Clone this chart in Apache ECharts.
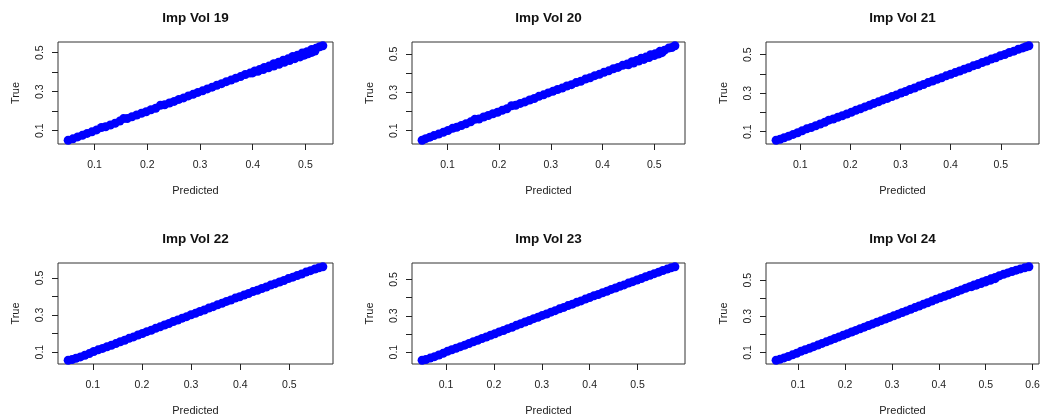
<!DOCTYPE html>
<html>
<head>
<meta charset="utf-8">
<title>Imp Vol</title>
<script src="https://cdn.jsdelivr.net/npm/echarts@6/dist/echarts.min.js"></script>
<style>
  html, body { margin: 0; padding: 0; background: #fff; }
  #chart { width: 1043px; height: 419px; }
</style>
</head>
<body>
<div id="chart"></div>
<script>
// [predicted, true]
const vol19 = [
  [0.050,0.051],[0.059,0.058],[0.068,0.068],[0.077,0.076],[0.086,0.086],[0.095,0.094],[0.104,0.104],[0.113,0.116],
  [0.121,0.120],[0.130,0.129],[0.139,0.138],[0.148,0.149],[0.155,0.162],[0.162,0.162],[0.171,0.171],[0.180,0.180],
  [0.189,0.189],[0.198,0.197],[0.207,0.207],[0.216,0.215],[0.225,0.230],[0.233,0.233],[0.242,0.242],[0.251,0.250],
  [0.260,0.260],[0.269,0.268],[0.278,0.278],[0.287,0.286],[0.296,0.296],[0.305,0.304],[0.314,0.314],[0.323,0.323],
  [0.332,0.333],[0.341,0.341],[0.350,0.351],[0.359,0.359],[0.368,0.369],[0.377,0.377],[0.386,0.388],[0.395,0.395],
  [0.404,0.406],[0.413,0.413],[0.422,0.424],[0.431,0.431],[0.440,0.443],[0.449,0.450],[0.458,0.461],[0.467,0.468],
  [0.476,0.480],[0.485,0.487],[0.494,0.498],[0.503,0.505],[0.512,0.516],[0.520,0.522],[0.527,0.530],[0.533,0.535],
  [0.400,0.396],[0.410,0.404],[0.420,0.413],[0.430,0.422],[0.440,0.431],[0.450,0.440],[0.460,0.450],[0.470,0.459],
  [0.480,0.469],[0.490,0.478],[0.498,0.487],[0.505,0.494],[0.512,0.501],[0.518,0.508]
]
const vol20 = [
  [0.051,0.050],[0.058,0.058],[0.066,0.066],[0.074,0.074],[0.083,0.082],[0.092,0.091],[0.101,0.101],[0.110,0.112],
  [0.118,0.118],[0.127,0.127],[0.136,0.136],[0.145,0.146],[0.153,0.159],[0.161,0.161],[0.170,0.171],[0.179,0.179],
  [0.188,0.188],[0.197,0.196],[0.206,0.206],[0.215,0.214],[0.224,0.230],[0.232,0.232],[0.241,0.242],[0.250,0.250],
  [0.259,0.260],[0.268,0.268],[0.277,0.279],[0.286,0.287],[0.295,0.297],[0.304,0.305],[0.313,0.315],[0.322,0.322],
  [0.331,0.333],[0.340,0.340],[0.349,0.351],[0.358,0.358],[0.367,0.369],[0.376,0.376],[0.385,0.387],[0.394,0.394],
  [0.403,0.405],[0.412,0.412],[0.421,0.423],[0.430,0.430],[0.439,0.441],[0.448,0.448],[0.457,0.460],[0.466,0.466],
  [0.475,0.478],[0.484,0.484],[0.493,0.496],[0.502,0.502],[0.511,0.514],[0.520,0.520],[0.528,0.531],[0.534,0.534],
  [0.540,0.543],[0.450,0.444],[0.460,0.453],[0.470,0.463],[0.480,0.472],[0.490,0.482],[0.500,0.492],[0.508,0.500],
  [0.515,0.507]
]
const vol21 = [
  [0.052,0.056],[0.060,0.061],[0.068,0.069],[0.077,0.077],[0.086,0.086],[0.095,0.095],[0.104,0.105],[0.113,0.115],
  [0.122,0.122],[0.131,0.131],[0.140,0.140],[0.149,0.149],[0.157,0.160],[0.166,0.166],[0.175,0.175],[0.184,0.183],
  [0.193,0.192],[0.202,0.201],[0.211,0.211],[0.220,0.219],[0.229,0.229],[0.238,0.237],[0.247,0.247],[0.256,0.255],
  [0.265,0.265],[0.274,0.273],[0.283,0.283],[0.292,0.291],[0.301,0.301],[0.310,0.309],[0.319,0.319],[0.328,0.327],
  [0.337,0.337],[0.346,0.345],[0.355,0.355],[0.364,0.363],[0.373,0.372],[0.382,0.380],[0.391,0.390],[0.400,0.398],
  [0.409,0.407],[0.418,0.415],[0.427,0.424],[0.436,0.432],[0.445,0.442],[0.454,0.449],[0.463,0.459],[0.472,0.467],
  [0.481,0.477],[0.490,0.484],[0.499,0.494],[0.508,0.501],[0.517,0.511],[0.526,0.518],[0.535,0.528],[0.544,0.535],
  [0.550,0.541],[0.556,0.546]
]
const vol22 = [
  [0.050,0.056],[0.058,0.060],[0.066,0.067],[0.075,0.074],[0.084,0.083],[0.093,0.092],[0.102,0.103],[0.111,0.112],
  [0.120,0.120],[0.129,0.129],[0.138,0.137],[0.147,0.146],[0.156,0.156],[0.165,0.164],[0.174,0.174],[0.183,0.182],
  [0.192,0.192],[0.201,0.200],[0.210,0.210],[0.219,0.218],[0.228,0.228],[0.237,0.236],[0.246,0.246],[0.255,0.254],
  [0.264,0.265],[0.273,0.273],[0.282,0.283],[0.291,0.291],[0.300,0.301],[0.309,0.309],[0.318,0.319],[0.327,0.327],
  [0.336,0.337],[0.345,0.345],[0.354,0.355],[0.363,0.363],[0.372,0.373],[0.381,0.381],[0.390,0.391],[0.399,0.398],
  [0.408,0.408],[0.417,0.416],[0.426,0.426],[0.435,0.433],[0.444,0.443],[0.453,0.451],[0.462,0.461],[0.471,0.469],
  [0.480,0.478],[0.489,0.486],[0.498,0.496],[0.507,0.504],[0.516,0.513],[0.525,0.521],[0.534,0.531],[0.543,0.539],
  [0.552,0.548],[0.560,0.554],[0.568,0.560]
]
const vol23 = [
  [0.050,0.055],[0.058,0.059],[0.067,0.067],[0.076,0.075],[0.085,0.084],[0.094,0.093],[0.103,0.104],[0.112,0.113],
  [0.121,0.121],[0.130,0.130],[0.139,0.138],[0.148,0.147],[0.157,0.157],[0.166,0.165],[0.175,0.175],[0.184,0.183],
  [0.193,0.193],[0.202,0.201],[0.211,0.211],[0.220,0.219],[0.229,0.229],[0.238,0.237],[0.247,0.248],[0.256,0.256],
  [0.265,0.266],[0.274,0.274],[0.283,0.284],[0.292,0.292],[0.301,0.302],[0.310,0.310],[0.319,0.320],[0.328,0.328],
  [0.337,0.338],[0.346,0.346],[0.355,0.356],[0.364,0.364],[0.373,0.374],[0.382,0.382],[0.391,0.392],[0.400,0.400],
  [0.409,0.410],[0.418,0.417],[0.427,0.427],[0.436,0.435],[0.445,0.445],[0.454,0.453],[0.463,0.462],[0.472,0.470],
  [0.481,0.480],[0.490,0.488],[0.499,0.497],[0.508,0.505],[0.517,0.515],[0.526,0.523],[0.535,0.532],[0.544,0.540],
  [0.553,0.549],[0.562,0.557],[0.570,0.564],[0.578,0.570]
]
const vol24 = [
  [0.053,0.057],[0.061,0.062],[0.070,0.070],[0.079,0.078],[0.088,0.087],[0.097,0.096],[0.106,0.107],[0.115,0.115],
  [0.124,0.123],[0.133,0.132],[0.142,0.141],[0.151,0.150],[0.160,0.159],[0.169,0.168],[0.178,0.177],[0.187,0.186],
  [0.196,0.195],[0.205,0.204],[0.214,0.213],[0.223,0.222],[0.232,0.231],[0.241,0.240],[0.250,0.249],[0.259,0.258],
  [0.268,0.267],[0.277,0.276],[0.286,0.285],[0.295,0.294],[0.304,0.303],[0.313,0.312],[0.322,0.321],[0.331,0.330],
  [0.340,0.339],[0.349,0.348],[0.358,0.357],[0.367,0.366],[0.376,0.375],[0.385,0.384],[0.394,0.394],[0.403,0.402],
  [0.412,0.411],[0.421,0.419],[0.430,0.428],[0.439,0.437],[0.448,0.446],[0.457,0.455],[0.466,0.464],[0.475,0.473],
  [0.484,0.481],[0.493,0.490],[0.502,0.498],[0.511,0.507],[0.520,0.515],[0.529,0.524],[0.538,0.532],[0.547,0.540],
  [0.556,0.548],[0.565,0.555],[0.574,0.562],[0.583,0.568],[0.592,0.574],
  [0.470,0.464],[0.480,0.472],[0.490,0.481],[0.500,0.490],[0.510,0.499],[0.520,0.508]
]

const panelTitles = ['Imp Vol 19', 'Imp Vol 20', 'Imp Vol 21', 'Imp Vol 22', 'Imp Vol 23', 'Imp Vol 24']
const panelData = [vol19, vol20, vol21, vol22, vol23, vol24]
const xTicks = [0.1, 0.2, 0.3, 0.4, 0.5]
const xTicksWide = [0.1, 0.2, 0.3, 0.4, 0.5, 0.6]
const yTicks = [0.1, 0.2, 0.3, 0.4, 0.5]
const yLabels = [0.1, 0.3, 0.5]

const FONT = 'Liberation Sans, Arial, sans-serif'
const colLeft = [58, 412, 766]
const colWidth = [275, 273, 273]
const rowTop = [42, 263]
const rowHeight = [102, 101]

// R-style range: data extent padded by 4% each side
function paddedRange(points, dim) {
  let lo = Infinity, hi = -Infinity
  points.forEach(p => { lo = Math.min(lo, p[dim]); hi = Math.max(hi, p[dim]) })
  const pad = (hi - lo) * 0.04
  return [lo - pad, hi + pad]
}

const option = {
  animation: false,
  title: [], grid: [], xAxis: [], yAxis: [], series: []
}

panelData.forEach((points, i) => {
  const col = i % 3
  const row = Math.floor(i / 3)
  const xr = paddedRange(points, 0)
  const yr = paddedRange(points, 1)
  const xt = xr[1] > 0.6 ? xTicksWide : xTicks

  option.title.push({
    text: panelTitles[i],
    left: colLeft[col] + colWidth[col] / 2,
    top: rowTop[row] - 31,
    textAlign: 'center',
    padding: 0,
    textStyle: { fontFamily: FONT, fontSize: 13.5, fontWeight: 'bold', color: '#111' }
  })
  option.grid.push({
    left: colLeft[col], top: rowTop[row], width: colWidth[col], height: rowHeight[row],
    show: true, borderColor: '#333', borderWidth: 1, containLabel: false
  })
  option.xAxis.push({
    type: 'value', gridIndex: i, min: xr[0], max: xr[1],
    name: 'Predicted', nameLocation: 'middle', nameGap: 41,
    nameTextStyle: { fontFamily: FONT, fontSize: 11, color: '#222' },
    axisLine: { show: false },
    splitLine: { show: false },
    axisTick: { show: true, customValues: xt, length: 6, lineStyle: { color: '#222' } },
    axisLabel: { customValues: xt, margin: 16, fontFamily: FONT, fontSize: 10.5, color: '#222', formatter: v => String(v) }
  })
  option.yAxis.push({
    type: 'value', gridIndex: i, min: yr[0], max: yr[1],
    name: 'True', nameLocation: 'middle', nameGap: 37, nameRotate: 90,
    nameTextStyle: { fontFamily: FONT, fontSize: 11, color: '#222' },
    axisLine: { show: false },
    splitLine: { show: false },
    axisTick: { show: true, customValues: yTicks, length: 6, lineStyle: { color: '#222' } },
    axisLabel: { customValues: yLabels, rotate: 90, margin: 12, fontFamily: FONT, fontSize: 10.5, color: '#222', formatter: v => String(v) }
  })
  option.series.push({
    type: 'scatter', xAxisIndex: i, yAxisIndex: i,
    data: points, symbol: 'circle', symbolSize: 9,
    itemStyle: { color: '#0000ff', opacity: 1 },
    silent: true
  })
})

const myChart = echarts.init(document.getElementById('chart'))
myChart.setOption(option)
</script>
</body>
</html>
